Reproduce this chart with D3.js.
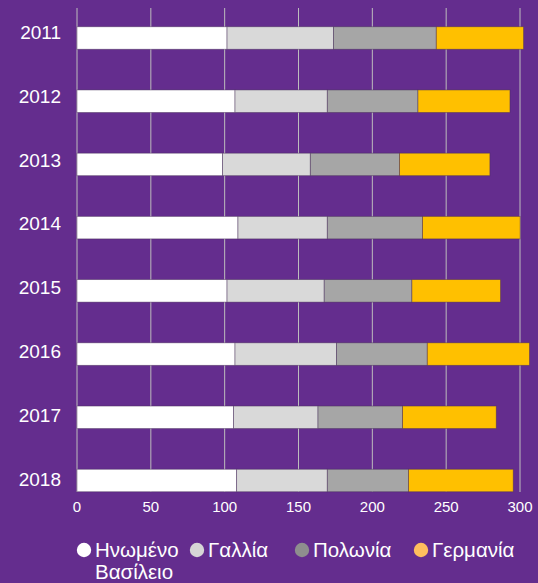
<!DOCTYPE html>
<html>
<head>
<meta charset="utf-8">
<script src="https://cdn.jsdelivr.net/npm/d3@7"></script>
<style>
  html, body { margin: 0; padding: 0; background: #642d8e; }
  svg { display: block; }
  text { font-family: "Liberation Sans", Arial, Helvetica, sans-serif; fill: #ffffff; }
</style>
</head>
<body>
<svg id="chart" width="538" height="583"></svg>
<script>
// Years shown on the vertical axis
const years = ["2011", "2012", "2013", "2014", "2015", "2016", "2017", "2018"];

// Series names (legend labels)
const seriesNames = ["Ηνωμένο Βασίλειο", "Γαλλία", "Πολωνία", "Γερμανία"];

// Values per year for each series
const ukValues      = [101.6, 107.0,  98.6, 109.0, 101.6, 107.0, 106.0, 108.1];
const franceValues  = [ 72.1,  62.5,  59.4,  60.5,  65.8,  68.8,  57.2,  61.4];
const polandValues  = [ 69.6,  61.4,  60.4,  64.5,  59.4,  61.4,  57.3,  55.0];
const germanyValues = [ 59.1,  62.3,  61.2,  66.1,  60.0,  69.2,  63.4,  70.9];

// Horizontal axis ticks
const xTicks = [0, 50, 100, 150, 200, 250, 300];

const seriesValues = [ukValues, franceValues, polandValues, germanyValues];
const barColors = ["#ffffff", "#d9d9d9", "#a6a6a6", "#ffc000"];
const markerColors = ["#ffffff", "#d6d6d6", "#8e8e8e", "#ffbe5e"];

const svg = d3.select("#chart");

const x = d3.scaleLinear().domain([0, 300]).range([77, 520]);
const yBar = d3.scalePoint().domain(years).range([38, 480.5]);
const yLabel = d3.scalePoint().domain(years).range([32, 479]);
const barH = 22.5;
const gridTop = 8, gridBottom = 492;

// Vertical gridlines
svg.append("g")
  .selectAll("line")
  .data(xTicks)
  .join("line")
  .attr("x1", d => x(d)).attr("x2", d => x(d))
  .attr("y1", gridTop).attr("y2", gridBottom)
  .attr("stroke", "#bdbdbd")
  .attr("stroke-width", 1);

// Stacked rows
const rows = years.map((yr, i) => {
  let acc = 0;
  return seriesValues.map((vals, s) => {
    const seg = { year: yr, s, x0: acc, x1: acc + vals[i] };
    acc += vals[i];
    return seg;
  });
}).flat();

svg.append("g")
  .selectAll("rect")
  .data(rows)
  .join("rect")
  .attr("x", d => x(d.x0))
  .attr("width", d => x(d.x1) - x(d.x0))
  .attr("y", d => yBar(d.year) - barH / 2)
  .attr("height", barH)
  .attr("fill", d => barColors[d.s])
  .attr("stroke", "rgba(70,45,85,0.55)")
  .attr("stroke-width", 0.8);

// Year labels
svg.append("g")
  .selectAll("text")
  .data(years)
  .join("text")
  .attr("x", 61)
  .attr("y", d => yLabel(d))
  .attr("dy", "0.36em")
  .attr("text-anchor", "end")
  .style("font-size", "19px")
  .text(d => d);

// X tick labels
svg.append("g")
  .selectAll("text")
  .data(xTicks)
  .join("text")
  .attr("x", d => x(d))
  .attr("y", 512)
  .attr("text-anchor", "middle")
  .style("font-size", "15px")
  .text(d => d);

// Legend
const legendX = [84, 197, 302, 421];
const legend = svg.append("g")
  .selectAll("g")
  .data(seriesNames)
  .join("g")
  .attr("transform", (d, i) => `translate(${legendX[i]},550)`);

legend.append("circle")
  .attr("r", 7.2)
  .attr("fill", (d, i) => markerColors[i]);

legend.append("text")
  .attr("x", 11)
  .attr("y", 6.8)
  .style("font-size", "20.5px")
  .each(function(d) {
    const words = d.split(" ");
    const t = d3.select(this);
    words.forEach((w, k) => {
      t.append("tspan")
        .attr("x", 11)
        .attr("dy", k === 0 ? 0 : 22)
        .text(w);
    });
  });
</script>
</body>
</html>
